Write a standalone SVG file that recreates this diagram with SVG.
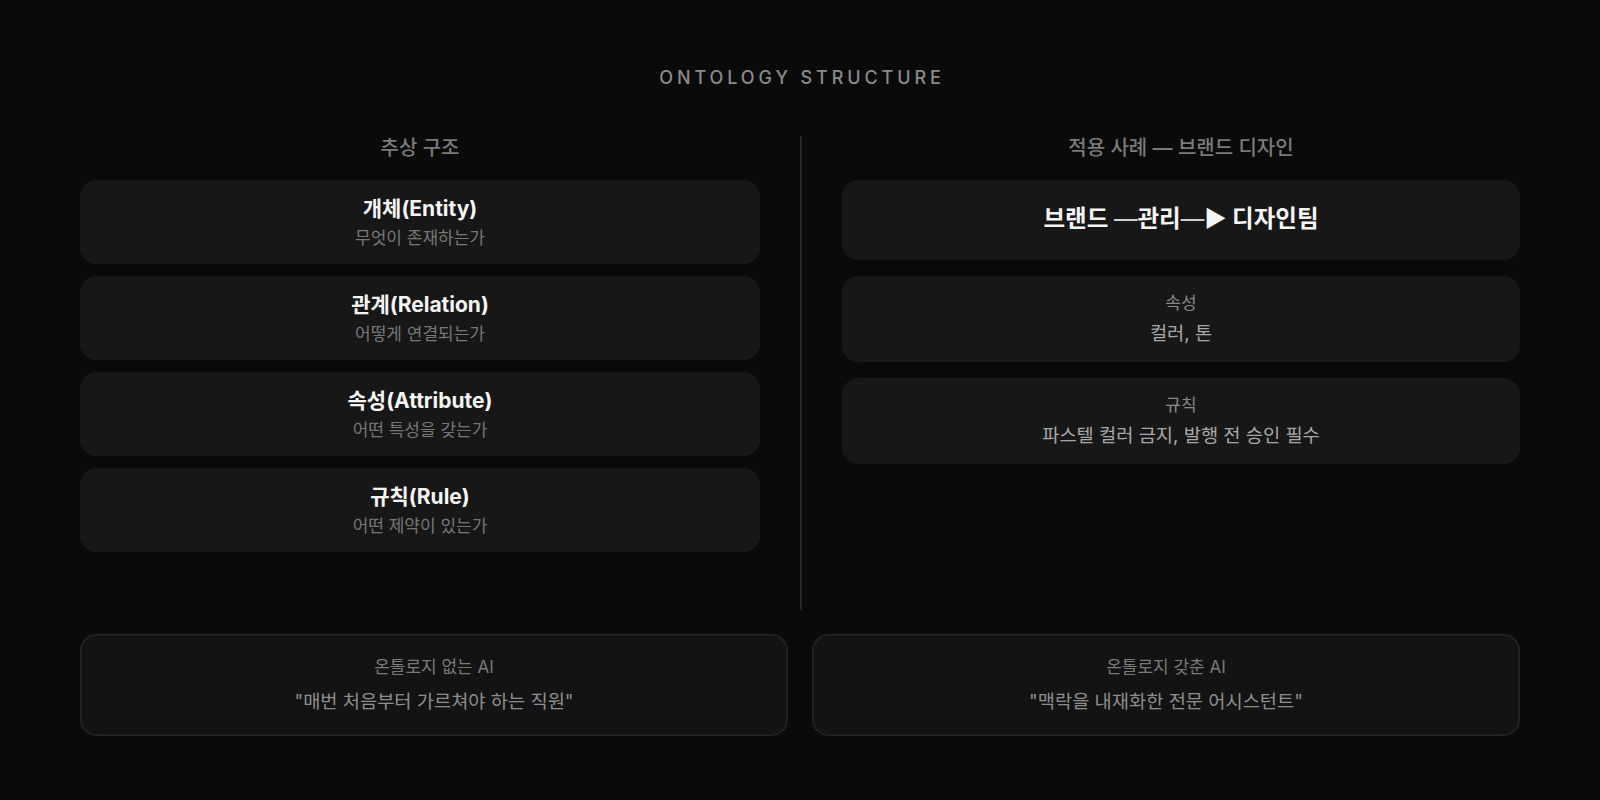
<svg xmlns="http://www.w3.org/2000/svg" width="1600" height="800" viewBox="0 0 1600 800">
<style>
text{font-family:Inter,"Noto Sans CJK KR","Noto Sans",sans-serif;text-anchor:middle}
.title{font-size:18px;letter-spacing:3.9px;fill:#8a8a8a;font-weight:500}
.head{font-size:20px;fill:#7a7a7a;font-weight:500}
.card{fill:#171717}
.foot{fill:#131313;stroke:#262626;stroke-width:1.5}
.t{font-size:21px;font-weight:700;fill:#f5f5f5}
.s{font-size:17px;fill:#777}
.big{font-size:23.5px;font-weight:700;fill:#f5f5f5}
.dash{font-weight:400;fill:#cfcfcf}
.lab{font-size:17px;fill:#8a8a8a}
.val{font-size:18.7px;fill:#a8a8a8}
.fl{font-size:17px;fill:#7a7a7a}
.fq{font-size:18.7px;fill:#8e8e8e}
</style>
<rect width="1600" height="800" fill="#0a0a0a"/>
<text class="title" x="802" y="84">ONTOLOGY STRUCTURE</text>
<text class="head" x="420" y="155">추상 구조</text>
<text class="head" x="1181" y="155">적용 사례 — 브랜드 디자인</text>
<g id="connectors">
<line x1="801" y1="136" x2="801" y2="610" stroke="#333" stroke-width="1.5"/>
</g>
<g id="entity"><rect class="card" x="80" y="180" width="680" height="84" rx="16"/><text class="t" x="420" y="216">개체(Entity)</text><text class="s" x="420" y="244">무엇이 존재하는가</text></g>
<g id="relation"><rect class="card" x="80" y="276" width="680" height="84" rx="16"/><text class="t" x="420" y="312">관계(Relation)</text><text class="s" x="420" y="340">어떻게 연결되는가</text></g>
<g id="attribute"><rect class="card" x="80" y="372" width="680" height="84" rx="16"/><text class="t" x="420" y="408">속성(Attribute)</text><text class="s" x="420" y="436">어떤 특성을 갖는가</text></g>
<g id="rule"><rect class="card" x="80" y="468" width="680" height="84" rx="16"/><text class="t" x="420" y="504">규칙(Rule)</text><text class="s" x="420" y="532">어떤 제약이 있는가</text></g>
<g id="brand"><rect class="card" x="842" y="180" width="678" height="80" rx="16"/><text class="big" x="1181" y="227">브랜드 <tspan class="dash">—</tspan>관리<tspan class="dash">—</tspan>▶ 디자인팀</text></g>
<g id="brand-attr"><rect class="card" x="842" y="276" width="678" height="86" rx="16"/><text class="lab" x="1181" y="309">속성</text><text class="val" x="1181" y="340">컬러, 톤</text></g>
<g id="brand-rule"><rect class="card" x="842" y="378" width="678" height="86" rx="16"/><text class="lab" x="1181" y="411">규칙</text><text class="val" x="1181" y="442">파스텔 컬러 금지, 발행 전 승인 필수</text></g>
<g id="without-ai"><rect class="foot" x="80.75" y="634.75" width="706.5" height="100.5" rx="16"/><text class="fl" x="434" y="673">온톨로지 없는 AI</text><text class="fq" x="434" y="708">"매번 처음부터 가르쳐야 하는 직원"</text></g>
<g id="with-ai"><rect class="foot" x="812.75" y="634.75" width="706.5" height="100.5" rx="16"/><text class="fl" x="1166" y="673">온톨로지 갖춘 AI</text><text class="fq" x="1166" y="708">"맥락을 내재화한 전문 어시스턴트"</text></g>
</svg>
